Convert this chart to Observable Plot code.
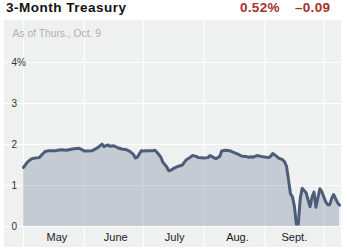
<!DOCTYPE html>
<html>
<head>
<meta charset="utf-8">
<script src="https://cdn.jsdelivr.net/npm/d3@7"></script>
<script src="https://cdn.jsdelivr.net/npm/@observablehq/plot@0.6"></script>
<style>
  html, body { margin: 0; padding: 0; background: #fff; }
  body { width: 347px; height: 252px; position: relative; overflow: hidden; font-family: "Liberation Sans", Arial, Helvetica, sans-serif; }
  .hdr { position: absolute; top: 1px; line-height: 14px; font-size: 13.5px; font-weight: bold; white-space: nowrap; }
  #title { left: 6px; color: #111; letter-spacing: 0.5px; }
  .val { color: #a8302b; letter-spacing: 0.3px; }
  #chart { position: absolute; left: 4px; top: 20px; }
  #chart svg { display: block; }
</style>
</head>
<body>
<div id="title" class="hdr">3-Month Treasury</div>
<div id="last" class="hdr val" style="left:240px">0.52%</div>
<div id="chg" class="hdr val" style="left:295px">–0.09</div>
<div id="chart"></div>
<script>
const dates = [
  "2008-05-01","2008-05-03","2008-05-05","2008-05-07","2008-05-09","2008-05-10","2008-05-12","2008-05-14",
  "2008-05-17","2008-05-20","2008-05-23","2008-05-26","2008-05-29","2008-05-31",
  "2008-06-01","2008-06-05","2008-06-07","2008-06-08","2008-06-10","2008-06-11","2008-06-13","2008-06-14",
  "2008-06-16","2008-06-18","2008-06-20","2008-06-22","2008-06-24","2008-06-26","2008-06-27","2008-06-28","2008-06-30",
  "2008-07-01","2008-07-03","2008-07-06","2008-07-07","2008-07-08","2008-07-10","2008-07-11","2008-07-13","2008-07-14",
  "2008-07-15","2008-07-17","2008-07-19","2008-07-21","2008-07-22","2008-07-23","2008-07-25","2008-07-26","2008-07-28","2008-07-29",
  "2008-08-01","2008-08-03","2008-08-04","2008-08-06","2008-08-07","2008-08-09","2008-08-10","2008-08-12","2008-08-14",
  "2008-08-16","2008-08-18","2008-08-20","2008-08-22","2008-08-24","2008-08-25","2008-08-26","2008-08-28","2008-08-30","2008-08-31",
  "2008-09-03","2008-09-04","2008-09-05","2008-09-07","2008-09-08","2008-09-10","2008-09-11","2008-09-12","2008-09-13",
  "2008-09-14","2008-09-15","2008-09-16","2008-09-17","2008-09-18","2008-09-19","2008-09-20","2008-09-21","2008-09-22",
  "2008-09-23","2008-09-24","2008-09-25","2008-09-26","2008-09-27","2008-09-28","2008-09-29","2008-09-30",
  "2008-10-01","2008-10-02","2008-10-03","2008-10-04","2008-10-05","2008-10-06","2008-10-07","2008-10-08","2008-10-09"
];
const yields = [
  1.44,1.57,1.65,1.67,1.68,1.73,1.83,1.85,
  1.85,1.87,1.86,1.89,1.91,1.87,
  1.84,1.85,1.90,1.93,2.01,1.95,1.99,1.96,
  1.97,1.92,1.89,1.88,1.84,1.76,1.67,1.69,1.85,
  1.84,1.85,1.85,1.86,1.81,1.69,1.57,1.45,1.36,
  1.37,1.43,1.47,1.50,1.57,1.63,1.69,1.73,1.71,1.68,
  1.67,1.68,1.73,1.68,1.65,1.71,1.84,1.86,1.85,
  1.81,1.77,1.72,1.71,1.69,1.70,1.69,1.73,1.71,1.70,
  1.68,1.72,1.78,1.71,1.67,1.63,1.58,1.47,1.15,
  0.80,0.73,0.50,0.06,0.06,0.68,0.93,0.88,0.82,
  0.65,0.48,0.72,0.84,0.47,0.70,0.92,0.85,
  0.72,0.60,0.53,0.53,0.68,0.78,0.68,0.58,0.52
];
const monthStarts = ["2008-05-01","2008-06-01","2008-07-01","2008-08-01","2008-09-01","2008-10-01"];
const monthLabelDates = ["2008-05-18","2008-06-17","2008-07-17","2008-08-18","2008-09-16"];
const monthLabels = ["May","June","July","Aug.","Sept."];
const yTicks = [0, 1, 2, 3, 4];
const yTickLabels = ["0", "1", "2", "3", "4%"];
const subtitle = "As of Thurs., Oct. 9";

const parse = d3.utcParse("%Y-%m-%d");
const data = dates.map((d, i) => ({date: parse(d), value: yields[i]}));

const chart = Plot.plot({
  width: 337,
  height: 227,
  margin: 0,
  style: {background: "#eff0f0", fontFamily: "'Liberation Sans', Arial, Helvetica, sans-serif"},
  x: {type: "utc", domain: [parse("2008-05-01"), parse("2008-10-09")], range: [19, 335], axis: null},
  y: {domain: [0, 4], range: [206, 42], axis: null},
  marks: [
    Plot.ruleX(monthStarts.map(parse), {stroke: "#ffffff", strokeWidth: 1}),
    Plot.ruleY(yTicks, {stroke: "#ffffff", strokeWidth: 1}),
    Plot.areaY(data, {x: "date", y: "value", fill: "#4f5f7a", fillOpacity: 0.26}),
    Plot.lineY(data, {x: "date", y: "value", stroke: "#4d5d79", strokeWidth: 3, strokeLinejoin: "round", strokeLinecap: "round"}),
    Plot.text(yTicks, {y: d => d, text: (d, i) => yTickLabels[i], frameAnchor: "left", dx: 7, textAnchor: "start", lineAnchor: "middle", fontSize: 10, fill: "#333"}),
    Plot.text(monthLabelDates.map(parse), {x: d => d, text: (d, i) => monthLabels[i], frameAnchor: "bottom", dy: -10, lineAnchor: "middle", textAnchor: "middle", fontSize: 11, fill: "#222"}),
    Plot.text([subtitle], {text: d => d, frameAnchor: "top-left", dx: 8, dy: 13.5, textAnchor: "start", lineAnchor: "middle", fontSize: 10.3, fill: "#b0b0b0"})
  ]
});
document.getElementById("chart").appendChild(chart);
</script>
</body>
</html>
